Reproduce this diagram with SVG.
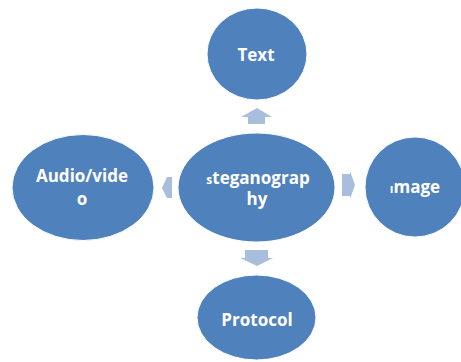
<svg xmlns="http://www.w3.org/2000/svg" width="461" height="362" viewBox="0 0 461 362">
<style>
.node{fill:#4F81BD;stroke:#FFFFFF;stroke-width:1}
.lbl{fill:#FFFFFF;font-family:"Open Sans","Liberation Sans",sans-serif;font-weight:700;font-size:17px;text-anchor:middle}
.arr{fill:#A9BDDD}
</style>
<rect width="461" height="362" fill="#FFFFFF"/>
<g id="connectors">
<polygon class="arr" points="257,108 272,117 265,117 265,124 248,124 248,117 241,117"/>
<polygon class="arr" points="257,266 273,258 268,258 268,250 245,250 245,258 240,258"/>
<polygon class="arr" points="355,185 350,171 350,174 342,174 342,196 350,196 350,199"/>
<polygon class="arr" points="162,188 167,177 172,177 172,198 167,198"/>
</g>
<g id="text-node">
<ellipse class="node" cx="257" cy="54" rx="50" ry="46"/>
<text class="lbl" x="256" y="61">Text</text>
</g>
<g id="steganography-node">
<ellipse class="node" cx="256.5" cy="187.5" rx="78.5" ry="54.5"/>
<text class="lbl" x="258" y="184"><tspan font-size="12">s</tspan>teganograp</text>
<text class="lbl" x="257" y="205">hy</text>
</g>
<g id="audio-video-node">
<ellipse class="node" cx="83" cy="187.5" rx="71" ry="53"/>
<text class="lbl" x="82" y="182">Audio/vide</text>
<text class="lbl" x="82" y="205">o</text>
</g>
<g id="image-node">
<ellipse class="node" cx="415" cy="187" rx="50" ry="50"/>
<text class="lbl" x="415" y="193"><tspan font-size="12">ı</tspan>mage</text>
</g>
<g id="protocol-node">
<ellipse class="node" cx="256.5" cy="317.5" rx="59.5" ry="42.5"/>
<text class="lbl" x="257" y="326">Protocol</text>
</g>
</svg>
